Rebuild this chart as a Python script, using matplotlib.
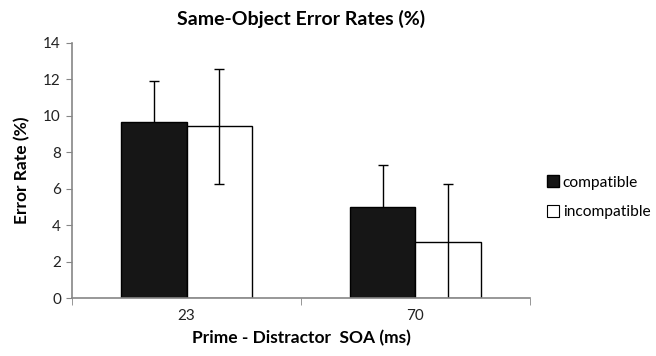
import matplotlib
matplotlib.use("Agg")
import matplotlib.pyplot as plt
import numpy as np
from matplotlib.lines import Line2D

plt.rcParams["font.family"] = ["Lato", "DejaVu Sans"]

SOA = ["23", "70"]
COMPATIVEL = [9.64, 5.02]
COMPATIVEL_ERR = [2.28, 2.30]
INCOMPATIVEL = [9.42, 3.08]
INCOMPATIVEL_ERR = [3.15, 3.17]
EIXO_COR = "#868686"

fig = plt.figure(figsize=(6.56, 3.56), dpi=100)
ax = fig.add_axes([0.1098, 0.162, 0.698, 0.718])

x = np.arange(len(SOA)); w = 0.286
ek = dict(fmt="none", ecolor="black", elinewidth=1, capsize=3.5, capthick=1)
# barras pretas por cima das suas barras de erro (a parte de baixo fica escondida)
ax.bar(x - w/2, COMPATIVEL, w, color="#161616", edgecolor="black", lw=1,
       label="compatible", zorder=3)
ax.errorbar(x - w/2, COMPATIVEL, yerr=COMPATIVEL_ERR, zorder=2, **ek)
ax.bar(x + w/2, INCOMPATIVEL, w, color="white", edgecolor="black", lw=1,
       label="incompatible", zorder=3)
ax.errorbar(x + w/2, INCOMPATIVEL, yerr=INCOMPATIVEL_ERR, zorder=4, **ek)

ax.set_xlim(-0.5, 1.5); ax.set_ylim(0, 14)
ax.set_yticks(range(0, 15, 2))
ax.set_xticks(x); ax.set_xticklabels(SOA)
ax.set_xticks([-0.5, 0.5, 1.5], minor=True)
ax.tick_params(axis="x", which="major", length=0, pad=8)
ax.tick_params(axis="x", which="minor", length=5, color=EIXO_COR)
ax.tick_params(axis="y", length=4, color=EIXO_COR, pad=4)
ax.tick_params(labelsize=11, labelcolor="#222222")
for s in ["top", "right"]: ax.spines[s].set_visible(False)
for s in ["left", "bottom"]:
    ax.spines[s].set_color(EIXO_COR); ax.spines[s].set_linewidth(1.2)
    ax.spines[s].set_zorder(5)

ax.set_title("Same-Object Error Rates (%)", fontsize=14, fontweight="bold", pad=13)
ax.set_ylabel("Error Rate (%)", fontsize=12.5, fontweight="bold", labelpad=9)
ax.set_xlabel("Prime - Distractor  SOA (ms)", fontsize=12.5, fontweight="bold", labelpad=5)

handles = [Line2D([], [], marker="s", ls="", ms=9, mfc="#161616", mec="black"),
           Line2D([], [], marker="s", ls="", ms=9, mfc="white", mec="black", mew=0.8)]
fig.legend(handles, ["compatible", "incompatible"], loc="center left",
           bbox_to_anchor=(0.815, 0.445), frameon=False, fontsize=11.2,
           handlelength=0.6, handletextpad=0.3, labelspacing=1.0)

fig.savefig("out.png", dpi=100)
